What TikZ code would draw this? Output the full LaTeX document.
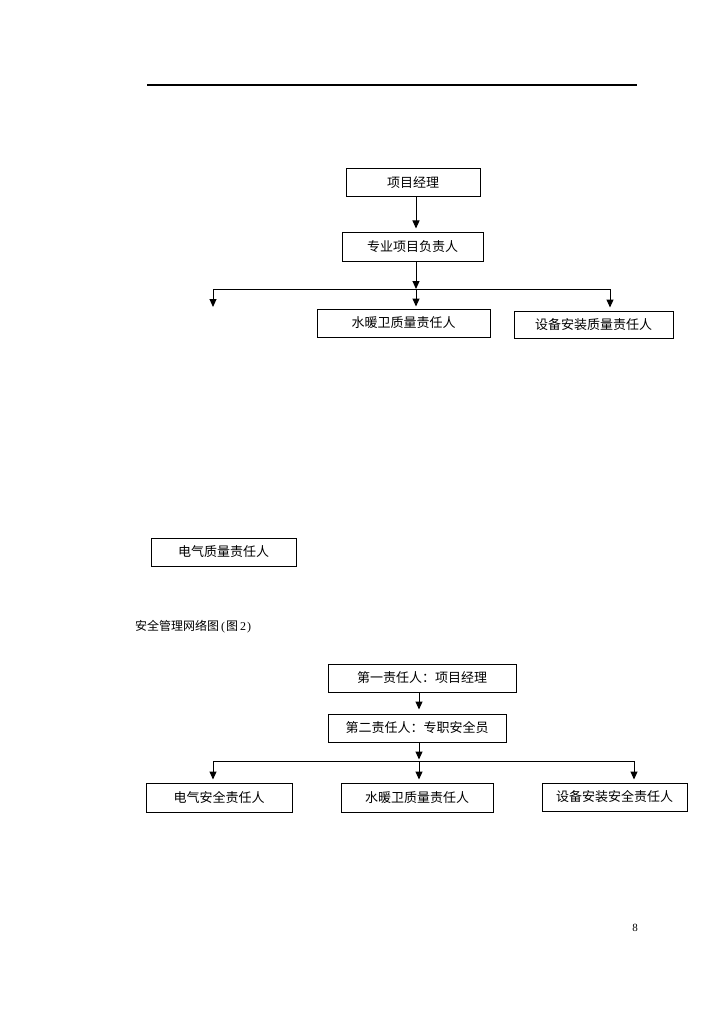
\documentclass[tikz,border=0pt]{standalone}
\usepackage{fontspec}
\setmainfont{Liberation Serif}
\newfontfamily\cjk{Noto Sans CJK SC}
\usetikzlibrary{arrows.meta}
\begin{document}
\begin{tikzpicture}[x=1pt,y=-1pt,
  box/.style={draw,line width=1pt,inner sep=0pt,font=\cjk\fontsize{13}{15}\selectfont},
  conn/.style={line width=1pt},
  arr/.style={conn,-{Triangle[length=8pt,width=7pt]}}]
\useasboundingbox (0,0) rectangle (724,1024);
% top rule
\coordinate (r1) at (147,85);
\coordinate (r2) at (637,85);
\draw[line width=1.1pt] (r1) -- (r2);
% chart 1
\node[box,minimum width=134pt,minimum height=28pt] (b1) at (413,183) {项目经理};
\node[box,minimum width=141pt,minimum height=28pt] (b2) at (412.5,247) {专业项目负责人};
\node[box,minimum width=173pt,minimum height=28pt] (b3) at (403.5,323) {水暖卫质量责任人};
\node[box,minimum width=159pt,minimum height=27pt] (b4) at (593.5,324.5) {设备安装质量责任人};
\node[box,minimum width=145pt,minimum height=28pt] (b5) at (223.5,552) {电气质量责任人};
\coordinate (x1) at (416,289);
\coordinate (l1) at (213,289);
\coordinate (r1b) at (610,289);
\coordinate (e1) at (213,307);
\draw[arr,shorten >=4pt] (b1.south -| x1) -- (b2.north -| x1);
\draw[arr] (b2.south -| x1) -- (x1);
\draw[conn] (l1) -- (r1b);
\draw[arr] (l1) -- (e1);
\draw[arr,shorten >=2pt] (x1) -- (x1 |- b3.north);
\draw[arr,shorten >=3pt] (r1b) -- (r1b |- b4.north);
% caption
\node[anchor=west,inner sep=0pt,font=\fontsize{12}{14}\selectfont] (cap) at (135,627) {{\cjk 安全管理网络图}\kern2pt(\kern1pt{\cjk 图}\kern2pt 2\kern1pt)};
% chart 2
\node[box,minimum width=188pt,minimum height=28pt] (c1) at (422,678) {第一责任人：项目经理};
\node[box,minimum width=178pt,minimum height=28pt] (c2) at (417,728) {第二责任人：专职安全员};
\node[box,minimum width=146pt,minimum height=29pt] (d1) at (219,797.5) {电气安全责任人};
\node[box,minimum width=152pt,minimum height=29pt] (d2) at (417,797.5) {水暖卫质量责任人};
\node[box,minimum width=145pt,minimum height=28pt] (d3) at (614.5,797) {设备安装安全责任人};
\coordinate (x2) at (419,761);
\coordinate (l2) at (213,761);
\coordinate (r2b) at (634,761);
\draw[arr,shorten >=4pt] (c1.south -| x2) -- (c2.north -| x2);
\draw[arr,shorten >=1.5pt] (c2.south -| x2) -- (x2);
\draw[conn] (l2) -- (r2b);
\draw[arr,shorten >=3pt] (l2) -- (l2 |- d1.north);
\draw[arr,shorten >=3pt] (x2) -- (x2 |- d2.north);
\draw[arr,shorten >=3pt] (r2b) -- (r2b |- d3.north);
% page number
\node[inner sep=0pt,font=\fontsize{11}{13}\selectfont] (pg) at (635,928) {8};
\end{tikzpicture}
\end{document}
